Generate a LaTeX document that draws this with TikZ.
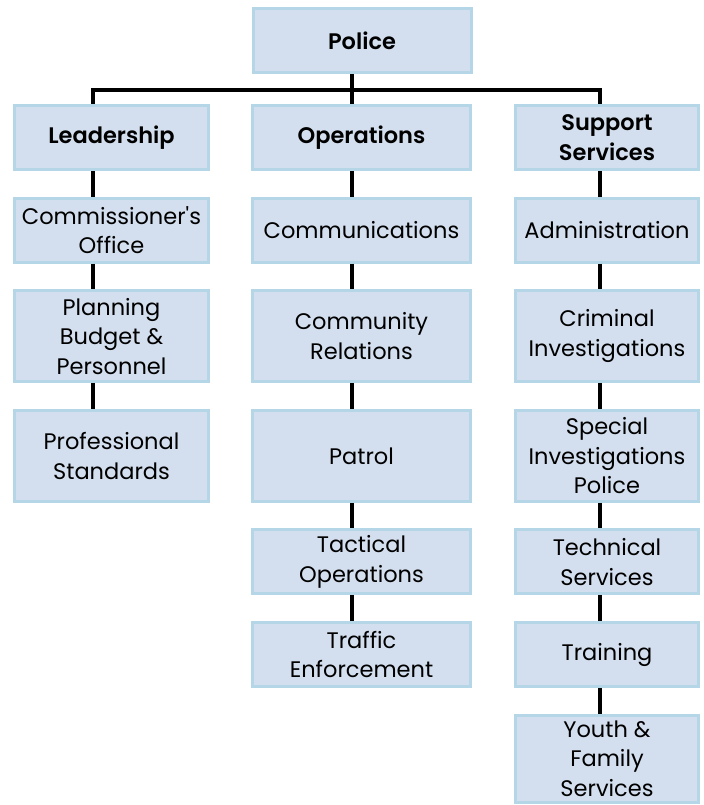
\documentclass[tikz,border=0pt]{standalone}
\usepackage{fontspec}
\setmainfont{Poppins}[BoldFont={Poppins SemiBold}]
\usepackage{xcolor}
\usetikzlibrary{positioning}
\definecolor{boxfill}{RGB}{211,223,238}
\definecolor{boxline}{RGB}{180,214,231}

\begin{document}
\begin{tikzpicture}[
  font=\fontsize{16}{21}\selectfont,
  node distance=0.64cm,
  unit/.style={draw=boxline, fill=boxfill, line width=0.075cm, align=center, minimum height=1.6cm, inner sep=2pt},
  tall/.style={unit, minimum height=2.275cm},
  lcol/.style={minimum width=4.85cm},
  ocol/.style={minimum width=5.45cm},
  scol/.style={minimum width=4.575cm},
  link/.style={line width=0.1cm}
]
\useasboundingbox (0,0) rectangle (17.575,-20.125);
% top and heads
\node[unit, ocol] (police) at (9.05,-1.025) {\textbf{Police}};
\node[unit, lcol] (lead) at (2.7875,-3.4375) {\textbf{Leadership}};
\node[unit, ocol] (ops) at (9.0375,-3.4375) {\textbf{Operations}};
\node[unit, scol] (supp) at (15.175,-3.4375) {\textbf{Support}\\\textbf{Services}};
% leadership
\node[unit, lcol, below=of lead] (commish) {Commissioner\textquotesingle s\\Office};
\node[tall, lcol, below=of commish] (plan) {Planning\\Budget \&\\Personnel};
\node[tall, lcol, below=of plan] (prof) {Professional\\Standards};
% operations
\node[unit, ocol, below=of ops] (comms) {Communications};
\node[tall, ocol, below=of comms] (commrel) {Community\\Relations};
\node[tall, ocol, below=of commrel] (patrol) {Patrol};
\node[unit, ocol, below=of patrol] (tact) {Tactical\\Operations};
\node[unit, ocol, below=of tact] (traffic) {Traffic\\Enforcement};
% support services
\node[unit, scol, below=of supp] (admin) {Administration};
\node[tall, scol, below=of admin] (crim) {Criminal\\Investigations};
\node[tall, scol, below=of crim] (special) {Special\\Investigations\\Police};
\node[unit, scol, below=of special] (tech) {Technical\\Services};
\node[unit, scol, below=of tech] (train) {Training};
\node[tall, scol, minimum height=2.175cm, below=of train] (youth) {Youth \&\\Family\\Services};
% trunks
\coordinate (ltrunk) at (2.325,-2.25);
\coordinate (otrunk) at (8.8,-2.25);
\coordinate (strunk) at (15.0,-2.25);
\draw[link] (lead.north -| ltrunk) -- (ltrunk) -- (strunk) -- (supp.north -| strunk);
\draw[link] (police.south -| otrunk) -- (ops.north -| otrunk);
\foreach \a/\b in {lead/commish, commish/plan, plan/prof}
  \draw[link] (\a.south -| ltrunk) -- (\b.north -| ltrunk);
\foreach \a/\b in {ops/comms, comms/commrel, commrel/patrol, patrol/tact, tact/traffic}
  \draw[link] (\a.south -| otrunk) -- (\b.north -| otrunk);
\foreach \a/\b in {supp/admin, admin/crim, crim/special, special/tech, tech/train, train/youth}
  \draw[link] (\a.south -| strunk) -- (\b.north -| strunk);
\end{tikzpicture}
\end{document}
